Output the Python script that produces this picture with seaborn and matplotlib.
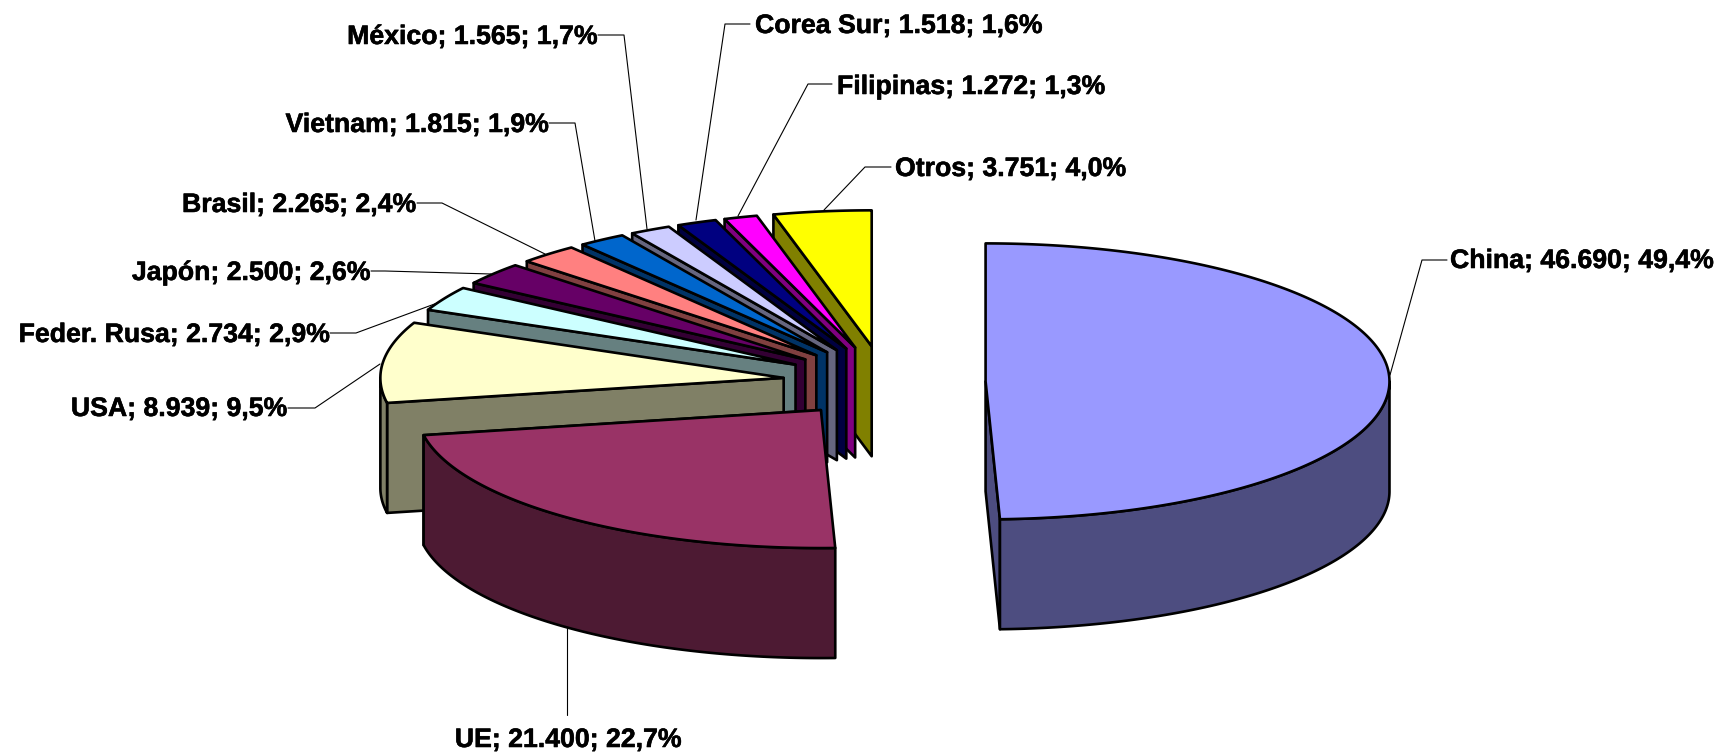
import numpy as np
import matplotlib
matplotlib.use("Agg")
import matplotlib.pyplot as plt
import matplotlib.patheffects as pe
import seaborn as sns

# ---- data ----
countries = ["China", "UE", "USA", "Feder. Rusa", "Japón", "Brasil", "Vietnam",
             "México", "Corea Sur", "Filipinas", "Otros"]
values = [46690, 21400, 8939, 2734, 2500, 2265, 1815, 1565, 1518, 1272, 3751]
top_colors = ["#9999FF", "#993366", "#FFFFCC", "#CCFFFF", "#660066", "#FF8080",
              "#0066CC", "#CCCCFF", "#000080", "#FF00FF", "#FFFF00"]

# ---- layout (pixels of the 1721x753 canvas) ----
CX, CY = 884.3, 382.0
RX, RY = 404.0, 138.0
EX, EY = 101.3, 36.0
DEPTH = 110.0
FONT = 19.2
EDGE = 1.9
TEXT_DY = 2

label_anchor = {
    "China": (1450, 259, "left"), "UE": (568, 738, "center"),
    "USA": (287, 407, "right"), "Feder. Rusa": (329, 333, "right"),
    "Japón": (370, 271, "right"), "Brasil": (416, 203, "right"),
    "Vietnam": (548, 123, "right"), "México": (597, 35, "right"),
    "Corea Sur": (755, 24, "left"), "Filipinas": (837, 85, "left"),
    "Otros": (895, 167, "left"),
}
leaders = {
    "China": [(1447, 260), (1422, 260), (1390, 375)],
    "UE": [(567, 715), (567, 626)],
    "USA": [(288, 408), (315, 408), (380, 364)],
    "Feder. Rusa": [(330, 333), (356, 333), (440, 302)],
    "Japón": [(371, 271), (385, 271), (491, 274)],
    "Brasil": [(417, 203), (442, 203), (545, 254)],
    "Vietnam": [(549, 123), (575, 123), (595, 241)],
    "México": [(598, 35), (624, 35), (647, 229)],
    "Corea Sur": [(750, 24), (725, 24), (696, 220)],
    "Filipinas": [(832, 84), (808, 84), (738, 216)],
    "Otros": [(891, 167), (865, 167), (824, 210)],
}

sns.set_theme(style="white")
plt.rcParams["font.family"] = ["Liberation Sans", "DejaVu Sans"]
palette = sns.color_palette(top_colors)
side_palette = [tuple(c * 0.5 for c in col) for col in palette]

fig = plt.figure(figsize=(17.21, 7.53), dpi=100)
ax = fig.add_axes([0, 0, 1, 1])
ax.set_xlim(0, 1721)
ax.set_ylim(753, 0)
ax.axis("off")

total = float(sum(values))
shares = np.array(values) / total
ends = np.cumsum(shares) * 2 * np.pi
starts = ends - shares * 2 * np.pi


def rim(t, ox, oy, scale=1.0):
    return ox + scale * RX * np.sin(t), oy - scale * RY * np.cos(t)


def fill(xs, ys, color, z):
    ax.fill(xs, ys, facecolor=color, edgecolor="black", linewidth=EDGE,
            joinstyle="round", zorder=z)


# back to front: Otros first, then anticlockwise round to UE, then China
order = list(range(len(values) - 1, -1, -1))
order = order[:-1] + [0]
for z, i in enumerate(order):
    a, b = starts[i], ends[i]
    mid = (a + b) / 2
    ox, oy = CX + EX * np.sin(mid), CY - EY * np.cos(mid)
    # slices at the back of the pie sit slightly further away
    scale = 1 - 0.015 * max(np.cos(mid), 0)
    top, side = palette[i], side_palette[i]
    zo = 2 + z

    # radial face that looks towards the viewer
    t = a if a > np.pi else b
    x, y = rim(t, ox, oy, scale)
    fill([ox, x, x, ox], [oy, y, y + DEPTH, oy + DEPTH], side, zo)
    # outer wall, front half of the rim only
    lo, hi = max(a, np.pi / 2), min(b, 3 * np.pi / 2)
    if hi > lo:
        ts = np.linspace(lo, hi, 160)
        xs, ys = rim(ts, ox, oy, scale)
        fill(np.r_[xs, xs[::-1]], np.r_[ys, ys[::-1] + DEPTH], side, zo)
    # top
    ts = np.linspace(a, b, 240)
    xs, ys = rim(ts, ox, oy, scale)
    fill(np.r_[ox, xs], np.r_[oy, ys], top, zo)


def es_number(v):
    return f"{v:,}".replace(",", ".")


for name, v, s in zip(countries, values, shares):
    px, py, ha = label_anchor[name]
    pct = f"{s * 100:.1f}".replace(".", ",")
    ax.text(px, py + TEXT_DY, f"{name}; {es_number(v)}; {pct}%", ha=ha, va="center",
            fontsize=FONT, fontweight="bold", color="black", zorder=40,
            path_effects=[pe.withStroke(linewidth=0.4, foreground="black")])
    pts = np.array(leaders[name])
    ax.plot(pts[:, 0], pts[:, 1], color="black", lw=0.8, zorder=1)

fig.savefig("out.png", dpi=100, facecolor="white")
